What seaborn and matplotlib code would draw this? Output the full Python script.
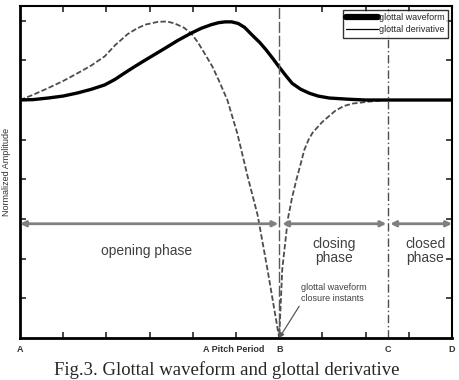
import numpy as np
import pandas as pd
import matplotlib
matplotlib.use("Agg")
import matplotlib.pyplot as plt
from matplotlib.lines import Line2D
import seaborn as sns

# ---- data ----
wave_x = [0, 0.3, 0.65, 1.0, 1.34, 1.65, 1.96, 2.2, 2.42, 2.65, 2.89, 3.12, 3.35, 3.65, 3.97, 4.2, 4.43,
          4.6, 4.75, 4.9, 5.05, 5.2, 5.38, 5.55, 5.7, 5.85, 6.0, 6.15, 6.3, 6.5, 6.7, 6.9, 7.16, 7.6, 8.0, 10]
wave_y = [0, 0.01, 0.05, 0.1, 0.18, 0.27, 0.38, 0.52, 0.68, 0.84, 1.0, 1.15, 1.3, 1.5, 1.69, 1.81, 1.9,
          1.95, 1.97, 1.97, 1.93, 1.83, 1.63, 1.45, 1.26, 1.05, 0.83, 0.62, 0.42, 0.27, 0.17, 0.1, 0.05, 0.02, 0, 0]

deriv_x = [0, 0.3, 0.65, 1.0, 1.34, 1.65, 1.96, 2.2, 2.49, 2.7, 2.9, 3.19, 3.4, 3.58, 3.8, 3.97, 4.12, 4.27,
           4.45, 4.6, 4.8, 5.03, 5.27, 5.5, 5.73, 6.0,
           6.07, 6.2, 6.3, 6.4, 6.5, 6.58, 6.68, 6.77, 6.9, 7.0, 7.16, 7.3, 7.5, 7.7, 8.08, 8.5, 10]
deriv_y = [0, 0.13, 0.3, 0.48, 0.68, 0.87, 1.1, 1.38, 1.66, 1.8, 1.9, 1.97, 1.98, 1.93, 1.82, 1.67, 1.45, 1.18,
           0.85, 0.5, 0, -0.84, -1.93, -2.9, -4.28, -6.0,
           -4.28, -3.0, -2.45, -2.0, -1.6, -1.26, -1.0, -0.83, -0.67, -0.55, -0.4, -0.27, -0.15, -0.09, -0.04, 0, 0]

point_labels = ["A", "A Pitch Period", "B", "C", "D"]
point_pos = [0, 4.95, 6.0, 8.52, 10]
phase_names = ["opening phase", "closing\nphase", "closed\nphase"]
phase_centers = [2.93, 7.27, 9.38]
phase_bounds = [(0, 5.98), (6.07, 8.48), (8.57, 10)]
series_names = ["glottal waveform", "glottal derivative"]
ylabel = "Normalized Amplitude"
caption = "Fig.3. Glottal waveform and glottal derivative"

sns.set_style("white")
plt.rcParams['font.family'] = ['Liberation Sans', 'DejaVu Sans']

fig = plt.figure(figsize=(4.59, 3.80), dpi=100)
ax = fig.add_axes([20/459, 1 - 338/380, 432/459, 332/380])

df_w = pd.DataFrame({"x": wave_x, "y": wave_y})
df_d = pd.DataFrame({"x": deriv_x, "y": deriv_y})
sns.lineplot(data=df_d, x="x", y="y", ax=ax, color="0.3", lw=1.3, linestyle=(0, (3, 1.3)),
             sort=False, estimator=None)
sns.lineplot(data=df_w, x="x", y="y", ax=ax, color="black", lw=2.4, sort=False, estimator=None)

ax.set_xlim(0, 10)
ax.set_ylim(-6, 2.37)

# vertical markers at B and C
ax.axvline(6.0, color="0.35", lw=1.0, linestyle=(0, (8, 2)))
ax.axvline(8.52, color="0.3", lw=1.0, linestyle=(0, (6, 2, 1, 2)))

# phase arrows
arrow_y = -3.12
for (a, b) in phase_bounds:
    ax.annotate("", xy=(b, arrow_y), xytext=(a, arrow_y),
                arrowprops=dict(arrowstyle="<|-|>", color="0.5", lw=2.0,
                                mutation_scale=8, shrinkA=0, shrinkB=0))
for name, cx in zip(phase_names, phase_centers):
    ax.text(cx, -3.8, name, ha="center", va="center", fontsize=10, color="0.25",
            linespacing=1.0)

ax.annotate("glottal waveform\nclosure instants", xy=(6.0, -6.0), xytext=(6.51, -4.86),
            fontsize=6.5, color="0.25", ha="left", va="center", linespacing=1.35,
            arrowprops=dict(arrowstyle="-|>", color="0.35", lw=0.9, mutation_scale=7,
                            shrinkA=0, shrinkB=0, relpos=(0.0, 0.0)))

# ticks
ax.set_xticks(point_pos)
ax.set_xticklabels(point_labels, fontsize=6.5, color="0.2", fontweight="bold")
ax.set_xticks(np.arange(1, 10), minor=True)
ax.tick_params(axis="x", which="major", length=0, pad=5)
ax.tick_params(axis="x", which="minor", direction="in", length=4, width=1.2, top=True, bottom=True)
ax.set_yticks(np.arange(-5, 3))
ax.set_yticklabels([])
ax.tick_params(axis="y", direction="in", length=4, width=1.2, left=True, right=True)
ax.set_xlabel("")
ax.set_ylabel(ylabel, fontsize=6.5, color="0.2")
ax.yaxis.set_label_coords(-0.02, 0.5)

for side in ["left", "bottom"]:
    ax.spines[side].set_linewidth(2.0)
for side in ["top", "right"]:
    ax.spines[side].set_linewidth(1.5)
for s in ax.spines.values():
    s.set_color("black")

handles = [Line2D([], [], color="black", lw=4.5), Line2D([], [], color="black", lw=0.9)]
leg = ax.legend(handles, series_names, loc="upper right", fontsize=6.5, handlelength=3.6,
                handletextpad=0.1, borderpad=0.35, labelspacing=0.35, frameon=True,
                fancybox=False, borderaxespad=0.45)
leg.get_frame().set_edgecolor("black")
leg.get_frame().set_linewidth(1.0)

fig.text(227/459, 1 - 370/380, caption, ha="center", va="center", fontsize=13.5,
         family=["Liberation Serif", "DejaVu Serif"])

fig.savefig("out.png", dpi=100)
